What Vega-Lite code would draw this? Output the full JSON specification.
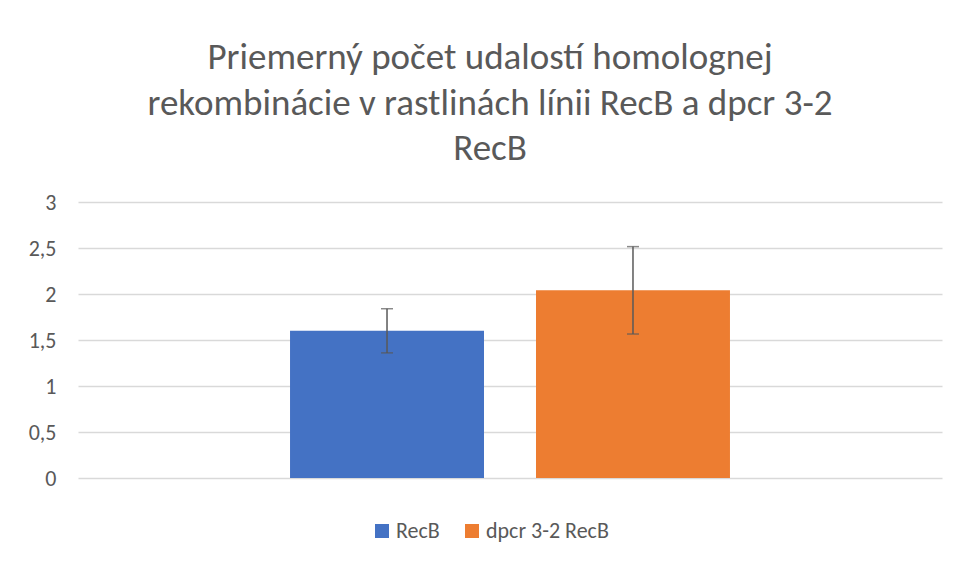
{
  "$schema": "https://vega.github.io/schema/vega-lite/v6.json",
  "width": 864,
  "height": 276,
  "autosize": {"type": "none"},
  "padding": {"left": 78, "top": 202, "right": 18, "bottom": 83},
  "background": "white",
  "title": {
    "text": ["Priemerný počet udalostí homolognej", "rekombinácie v rastlinách línii RecB a dpcr 3-2", "RecB"],
    "fontSize": 37,
    "font": "Carlito, Lato, Open Sans",
    "fontWeight": "normal",
    "color": "#595959",
    "lineHeight": 45.5,
    "anchor": "middle",
    "dx": -20,
    "offset": 23
  },
  "data": {
    "values": [
      {"series": "RecB", "mean": 1.6, "lo": 1.36, "hi": 1.84},
      {"series": "dpcr 3-2 RecB", "mean": 2.04, "lo": 1.565, "hi": 2.515}
    ]
  },
  "encoding": {
    "x": {
      "field": "series",
      "type": "nominal",
      "sort": ["RecB", "dpcr 3-2 RecB"],
      "scale": {"paddingInner": 0.2114, "paddingOuter": 0.862},
      "axis": null
    }
  },
  "layer": [
    {
      "mark": {"type": "bar"},
      "encoding": {
        "y": {
          "field": "mean",
          "type": "quantitative",
          "scale": {"domain": [0, 3]},
          "axis": {
            "values": [0, 0.5, 1, 1.5, 2, 2.5, 3],
            "title": null,
            "domain": false,
            "ticks": false,
            "labelPadding": 22,
            "labelFontSize": 22,
            "labelFont": "Carlito, Lato, Open Sans",
            "labelColor": "#595959",
            "labelExpr": "replace(format(datum.value, '~g'), '.', ',')",
            "gridColor": "#D9D9D9",
            "gridWidth": 1.5
          }
        },
        "color": {
          "field": "series",
          "type": "nominal",
          "scale": {"domain": ["RecB", "dpcr 3-2 RecB"], "range": ["#4472C4", "#ED7D31"]},
          "legend": {
            "orient": "none",
            "legendX": 293,
            "legendY": 318,
            "direction": "horizontal",
            "title": null,
            "symbolType": "square",
            "symbolSize": 196,
            "symbolStrokeWidth": 0,
            "symbolOpacity": 1,
            "labelFontSize": 22,
            "labelFont": "Carlito, Lato, Open Sans",
            "labelColor": "#595959",
            "columnPadding": 21,
            "labelOffset": 3
          }
        }
      }
    },
    {
      "mark": {"type": "rule", "color": "#595959", "strokeWidth": 1.5},
      "encoding": {
        "y": {"field": "lo", "type": "quantitative"},
        "y2": {"field": "hi"}
      }
    },
    {
      "mark": {"type": "tick", "color": "#595959", "thickness": 1.5, "size": 12, "orient": "horizontal"},
      "encoding": {
        "y": {"field": "hi", "type": "quantitative"}
      }
    },
    {
      "mark": {"type": "tick", "color": "#595959", "thickness": 1.5, "size": 12, "orient": "horizontal"},
      "encoding": {
        "y": {"field": "lo", "type": "quantitative"}
      }
    }
  ],
  "config": {
    "view": {"stroke": null}
  }
}
